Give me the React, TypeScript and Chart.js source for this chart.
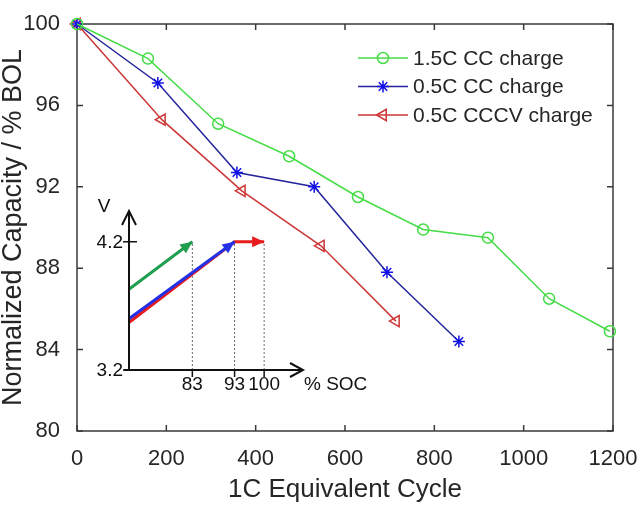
import { useEffect, useRef } from "react";
import { Chart, registerables, Plugin } from "chart.js";
import { drawPoint } from "chart.js/helpers";

Chart.register(...registerables);

const FONT = "'Liberation Sans', Arial, sans-serif";
const TEXT = "#262626";
const AXIS = "#3a3a3a";

// main chart data
const seriesLabels = ["1.5C CC charge", "0.5C CC charge", "0.5C CCCV charge"];
const cycles15CC = [0, 159, 316, 475, 629, 775, 920, 1057, 1193];
const capacity15CC = [100, 98.3, 95.1, 93.5, 91.5, 89.9, 89.5, 86.5, 84.9];
const cycles05CC = [0, 181, 358, 531, 694, 855];
const capacity05CC = [100, 97.1, 92.7, 92.0, 87.8, 84.4];
const cycles05CCCV = [0, 190, 369, 546, 714];
const capacity05CCCV = [100, 95.3, 91.8, 89.1, 85.4];
const xTicks = [0, 200, 400, 600, 800, 1000, 1200];
const yTicks = [80, 84, 88, 92, 96, 100];

// inset (schematic voltage vs SOC)
const socTicks = [83, 93, 100];
const voltTicks = [3.2, 4.2];
const insetGreenSoc = [68, 83];
const insetGreenV = [3.83, 4.2];
const insetBlueSoc = [68, 93];
const insetBlueV = [3.6, 4.2];
const insetRedSoc = [68, 93, 100];
const insetRedV = [3.57, 4.2, 4.2];

const toPoints = (xs: number[], ys: number[]) => xs.map((x, i) => ({ x, y: ys[i] }));

const framePlugin: Plugin = {
  id: "frame",
  beforeDatasetsDraw(chart) {
    const { ctx, chartArea: a } = chart;
    const xs = chart.scales.x;
    const ys = chart.scales.y;
    ctx.save();
    ctx.strokeStyle = AXIS;
    ctx.lineWidth = 1.5;
    ctx.strokeRect(a.left, a.top, a.right - a.left, a.bottom - a.top);
    ctx.beginPath();
    xTicks.forEach((v) => {
      const px = xs.getPixelForValue(v);
      ctx.moveTo(px, a.bottom);
      ctx.lineTo(px, a.bottom - 6);
      ctx.moveTo(px, a.top);
      ctx.lineTo(px, a.top + 6);
    });
    yTicks.forEach((v) => {
      const py = ys.getPixelForValue(v);
      ctx.moveTo(a.left, py);
      ctx.lineTo(a.left + 6, py);
      ctx.moveTo(a.right, py);
      ctx.lineTo(a.right - 6, py);
    });
    ctx.stroke();
    ctx.restore();
  },
  afterDraw(chart) {
    // MATLAB style legend: line with marker in the middle
    const { ctx } = chart;
    ctx.save();
    chart.data.datasets.forEach((ds: any, i) => {
      const y = 58 + i * 28.5;
      ctx.strokeStyle = ds.borderColor;
      ctx.lineWidth = 1.5;
      ctx.beginPath();
      ctx.moveTo(358, y);
      ctx.lineTo(408, y);
      ctx.stroke();
      ctx.strokeStyle = ds.pointBorderColor;
      ctx.fillStyle = "rgba(0,0,0,0)";
      drawPoint(ctx, { pointStyle: ds.pointStyle, rotation: ds.pointRotation || 0, radius: ds.pointRadius, borderWidth: 1.5 }, 383, y);
      ctx.fillStyle = TEXT;
      ctx.font = `21px ${FONT}`;
      ctx.textBaseline = "middle";
      ctx.textAlign = "left";
      ctx.fillText(ds.label, 413, y + 1);
    });
    ctx.restore();
  },
};

const insetPlugin: Plugin = {
  id: "insetAxes",
  afterDatasetsDraw(chart) {
    const { ctx, chartArea: a } = chart;
    const xs = chart.scales.x;
    const ys = chart.scales.y;
    const left = a.left;
    const bottom = a.bottom;
    ctx.save();
    ctx.strokeStyle = "#111";
    ctx.lineWidth = 2;
    ctx.beginPath();
    // axes with open arrow heads
    ctx.moveTo(left, bottom);
    ctx.lineTo(left, a.top);
    ctx.moveTo(left - 7, a.top + 14);
    ctx.lineTo(left, a.top);
    ctx.lineTo(left + 7, a.top + 14);
    ctx.moveTo(left - 5, bottom);
    ctx.lineTo(a.right, bottom);
    ctx.moveTo(a.right - 13, bottom - 7);
    ctx.lineTo(a.right, bottom);
    ctx.lineTo(a.right - 13, bottom + 7);
    ctx.stroke();
    ctx.lineWidth = 1.5;
    ctx.beginPath();
    voltTicks.forEach((v) => {
      const py = ys.getPixelForValue(v);
      ctx.moveTo(left - 6, py);
      ctx.lineTo(left + (v === voltTicks[0] ? 0 : 8), py);
    });
    socTicks.forEach((v) => {
      const px = xs.getPixelForValue(v);
      ctx.moveTo(px, bottom);
      ctx.lineTo(px, bottom + 7);
    });
    ctx.stroke();

    ctx.fillStyle = "#111";
    ctx.font = `19px ${FONT}`;
    ctx.textBaseline = "middle";
    ctx.textAlign = "right";
    voltTicks.forEach((v) => {
      ctx.fillText(v.toFixed(1), left - 6, ys.getPixelForValue(v) + 1);
    });
    ctx.textAlign = "center";
    ctx.fillText("V", left - 25, a.top - 4);
    socTicks.forEach((v) => {
      ctx.fillText(String(v), xs.getPixelForValue(v), bottom + 15);
    });
    ctx.textAlign = "left";
    ctx.fillText("% SOC", a.right + 1, bottom + 15);

    // filled arrow heads on the charge curves
    chart.data.datasets.forEach((ds: any, i) => {
      if (!ds.arrow) return;
      const pts = chart.getDatasetMeta(i).data;
      const p1 = pts[pts.length - 2];
      const p2 = pts[pts.length - 1];
      const ang = Math.atan2(p2.y - p1.y, p2.x - p1.x);
      const len = 12;
      const half = 5.5;
      ctx.fillStyle = ds.borderColor;
      ctx.beginPath();
      ctx.moveTo(p2.x, p2.y);
      ctx.lineTo(p2.x - len * Math.cos(ang) + half * Math.sin(ang), p2.y - len * Math.sin(ang) - half * Math.cos(ang));
      ctx.lineTo(p2.x - len * Math.cos(ang) - half * Math.sin(ang), p2.y - len * Math.sin(ang) + half * Math.cos(ang));
      ctx.closePath();
      ctx.fill();
    });
    ctx.restore();
  },
};

export default function App() {
  const mainRef = useRef<HTMLCanvasElement>(null);
  const insetRef = useRef<HTMLCanvasElement>(null);

  useEffect(() => {
    document.body.style.margin = "0";
    if (!mainRef.current || !insetRef.current) return;

    const main = new Chart(mainRef.current, {
      type: "line",
      data: {
        datasets: [
          {
            label: seriesLabels[0],
            data: toPoints(cycles15CC, capacity15CC),
            borderColor: "#45dc45",
            pointBorderColor: "#45dc45",
            backgroundColor: "rgba(0,0,0,0)",
            pointBackgroundColor: "rgba(0,0,0,0)",
            pointStyle: "circle",
            pointRadius: 5.5,
            borderWidth: 1.5,
            pointBorderWidth: 1.5,
            clip: false,
          },
          {
            label: seriesLabels[1],
            data: toPoints(cycles05CC, capacity05CC),
            borderColor: "#24249c",
            pointBorderColor: "#1010e6",
            backgroundColor: "rgba(0,0,0,0)",
            pointBackgroundColor: "rgba(0,0,0,0)",
            pointStyle: "star",
            pointRadius: 6,
            borderWidth: 1.5,
            pointBorderWidth: 1.5,
            clip: false,
          },
          {
            label: seriesLabels[2],
            data: toPoints(cycles05CCCV, capacity05CCCV),
            borderColor: "#cc3636",
            pointBorderColor: "#cc3636",
            backgroundColor: "rgba(0,0,0,0)",
            pointBackgroundColor: "rgba(0,0,0,0)",
            pointStyle: "triangle",
            pointRotation: -90,
            pointRadius: 6.5,
            borderWidth: 1.5,
            pointBorderWidth: 1.5,
            clip: false,
          },
        ] as any,
      },
      options: {
        responsive: false,
        animation: false,
        events: [],
        layout: { padding: { left: 0, right: 27, top: 24, bottom: 0 } },
        plugins: { legend: { display: false }, tooltip: { enabled: false } },
        scales: {
          x: {
            type: "linear",
            min: 0,
            max: 1200,
            afterBuildTicks: (s) => {
              s.ticks = xTicks.map((value) => ({ value }));
            },
            ticks: {
              font: { size: 22, family: FONT },
              color: TEXT,
              padding: 7,
              maxRotation: 0,
              autoSkip: false,
              callback: (v) => String(v),
            },
            grid: { display: false },
            border: { display: false },
            title: {
              display: true,
              text: "1C Equivalent Cycle",
              color: TEXT,
              font: { size: 26, family: FONT, lineHeight: 1 },
              padding: { top: 0, bottom: 18 },
            },
            afterFit: (s: any) => {
              s.height = 90;
              s.paddingLeft = 0;
              s.paddingRight = 0;
            },
          },
          y: {
            type: "linear",
            min: 80,
            max: 100,
            afterBuildTicks: (s) => {
              s.ticks = yTicks.map((value) => ({ value }));
            },
            ticks: {
              font: { size: 22, family: FONT },
              color: TEXT,
              padding: 9,
              autoSkip: false,
              callback: (v) => String(v),
            },
            grid: { display: false },
            border: { display: false },
            title: {
              display: true,
              text: "Normalized Capacity / % BOL",
              color: TEXT,
              font: { size: 27, family: FONT, lineHeight: 1 },
              padding: { top: 0, bottom: 0 },
            },
            afterFit: (s: any) => {
              s.width = 77;
              s.paddingTop = 0;
              s.paddingBottom = 0;
            },
          },
        },
      },
      plugins: [framePlugin],
    });

    const inset = new Chart(insetRef.current, {
      type: "scatter",
      data: {
        datasets: [
          {
            data: toPoints(insetGreenSoc, insetGreenV),
            borderColor: "#1f9e50",
            arrow: true,
          },
          {
            data: toPoints(insetBlueSoc, insetBlueV),
            borderColor: "#2430e6",
            arrow: true,
          },
          {
            data: toPoints(insetRedSoc, insetRedV),
            borderColor: "#e81c1c",
            arrow: true,
          },
          ...socTicks.map((s) => ({
            data: toPoints([s, s], [voltTicks[0], voltTicks[1]]),
            borderColor: "#666",
            borderWidth: 1,
            borderDash: [2, 2],
          })),
        ].map((d: any) => ({
          showLine: true,
          pointRadius: 0,
          borderWidth: 3,
          clip: false,
          ...d,
        })) as any,
      },
      options: {
        responsive: false,
        animation: false,
        events: [],
        layout: { padding: { left: 129, top: 211, right: 337, bottom: 151 } },
        plugins: { legend: { display: false }, tooltip: { enabled: false } },
        scales: {
          x: { type: "linear", min: 68, max: 109.2, display: false },
          y: { type: "linear", min: 3.2, max: 4.44, display: false },
        },
      },
      plugins: [insetPlugin],
    });

    return () => {
      main.destroy();
      inset.destroy();
    };
  }, []);

  return (
    <div style={{ position: "relative", width: 640, height: 521, background: "#fff" }}>
      <canvas ref={mainRef} width={640} height={521} style={{ position: "absolute", left: 0, top: 0 }} />
      <canvas ref={insetRef} width={640} height={521} style={{ position: "absolute", left: 0, top: 0 }} />
    </div>
  );
}
